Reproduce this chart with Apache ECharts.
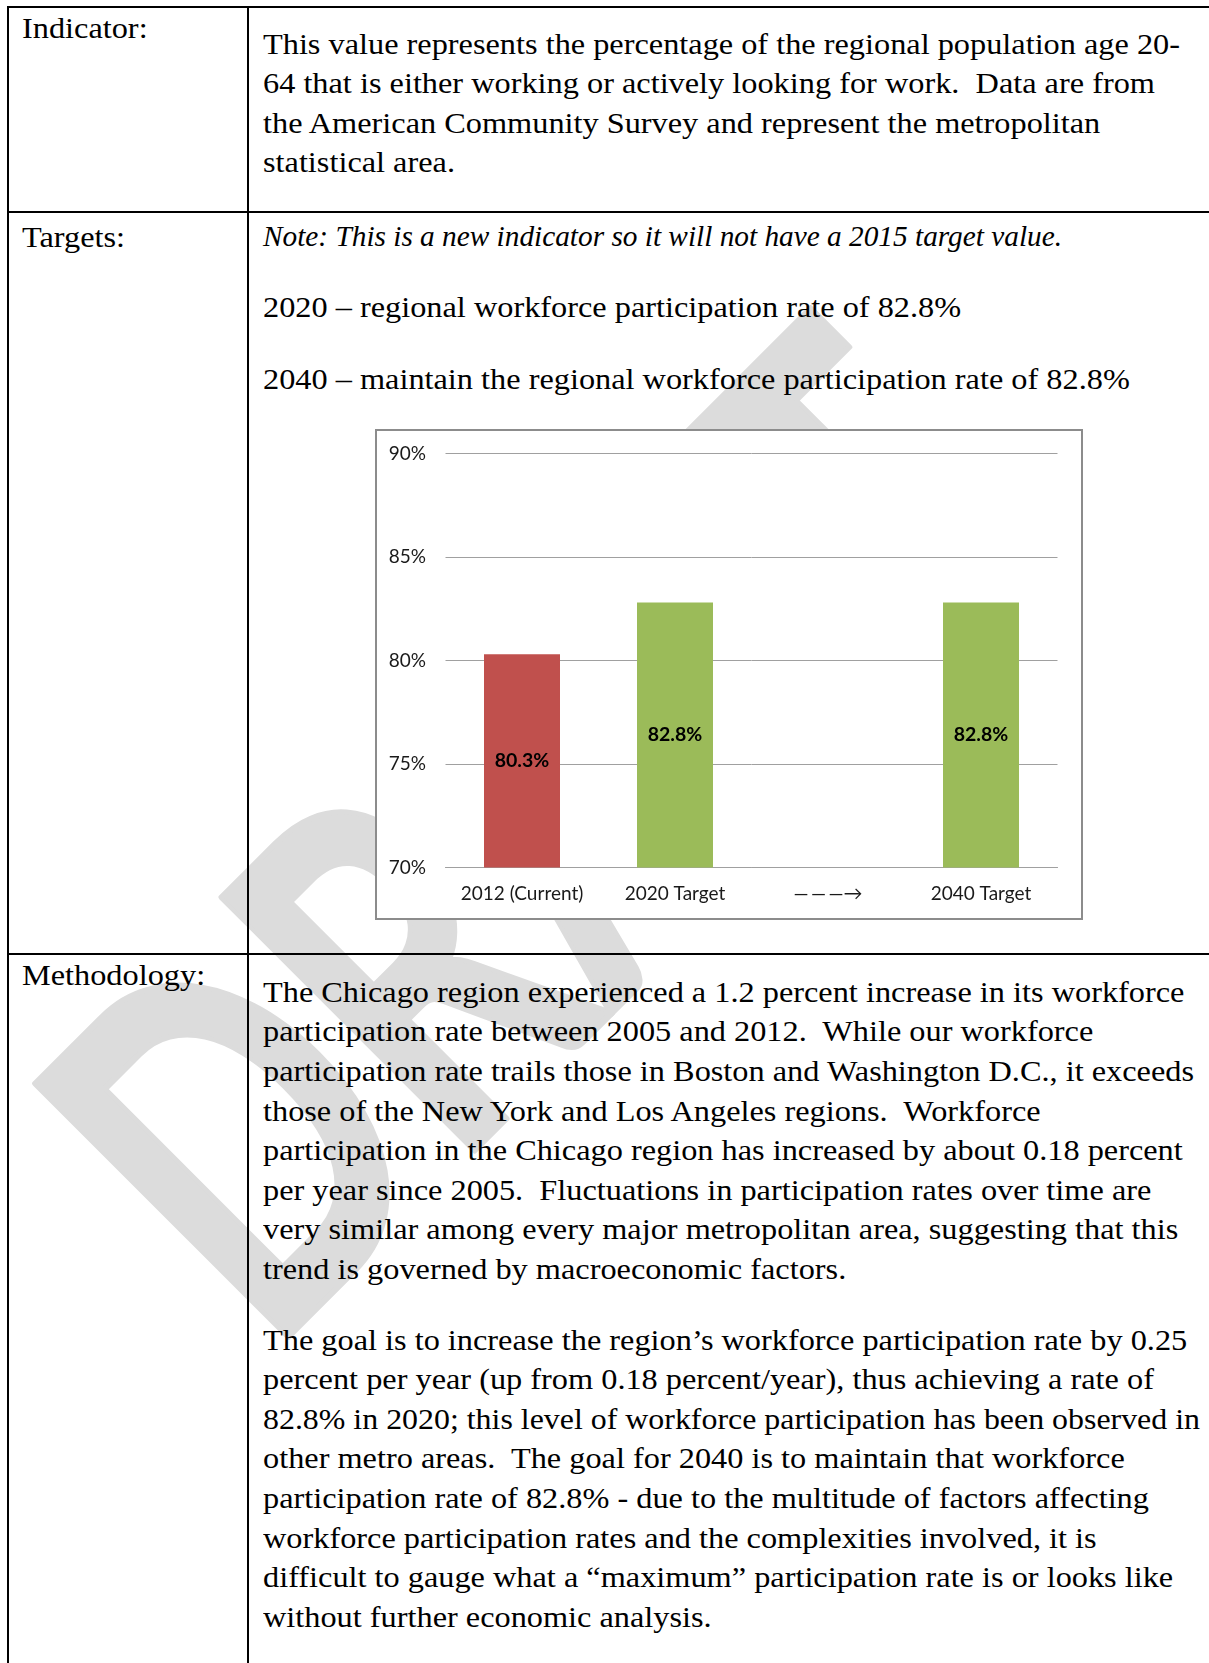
<!DOCTYPE html>
<html>
<head>
<meta charset="utf-8">
<script src="https://cdn.jsdelivr.net/npm/echarts@6/dist/echarts.min.js"></script>
<style>
  html, body { margin: 0; padding: 0; background: #fff; }
  #page { position: relative; width: 1209px; height: 1663px; overflow: hidden; background: #fff; }
  #wm { position: absolute; left: 0; top: 0; width: 1209px; height: 1663px; z-index: 0; }
  .rule { position: absolute; background: #000; z-index: 1; }
  .txt {
    position: absolute; z-index: 2; margin: 0;
    font-family: 'Liberation Serif', 'Times New Roman', serif; font-size: 29px; line-height: 39.6px;
    color: #000; white-space: pre;
  }
  .txt > div { width: max-content; transform-origin: 0 0; }
  .txt.it { font-style: italic; }
  #chartBox {
    position: absolute; left: 375px; top: 429px; width: 708px; height: 491px;
    box-sizing: border-box; border: 2px solid #8c8c8c; background: #fff; z-index: 3;
  }
  #chart { width: 704px; height: 487px; }
</style>
</head>
<body>
<div id="page">
  <svg id="wm" xmlns="http://www.w3.org/2000/svg">
    <text transform="translate(268 1357) rotate(-45) scale(0.7 1)" x="0" y="0"
          font-family="Lato" font-weight="bold" font-size="495" fill="#dcdcdc"
          stroke="#dcdcdc" stroke-width="6" stroke-linejoin="round">DRAFT</text>
  </svg>

  <!-- table rules -->
  <div class="rule" style="left:7px;top:6px;width:1202px;height:2px"></div>
  <div class="rule" style="left:7px;top:211px;width:1202px;height:2px"></div>
  <div class="rule" style="left:7px;top:953px;width:1202px;height:2px"></div>
  <div class="rule" style="left:7px;top:6px;width:2px;height:1657px"></div>
  <div class="rule" style="left:247px;top:6px;width:2px;height:1657px"></div>

  <div class="txt" id="lblIndicator" style="left:22px;top:9px"></div>
  <div class="txt" id="lblTargets" style="left:22px;top:218px"></div>
  <div class="txt" id="lblMethod" style="left:22px;top:956px"></div>

  <div class="txt" id="indicatorText" style="left:263px;top:24.7px"></div>
  <div class="txt it" id="noteText" style="left:263px;top:216.7px"></div>
  <div class="txt" id="target2020" style="left:263px;top:287.7px"></div>
  <div class="txt" id="target2040" style="left:263px;top:359.8px"></div>
  <div class="txt" id="methodA" style="left:263px;top:972.8px"></div>
  <div class="txt" id="methodB" style="left:263px;top:1320.7px"></div>

  <div id="chartBox"><div id="chart"></div></div>
</div>

<script>
// chart data
const categories = ['2012 (Current)', '2020 Target', '—\u2009—\u2009—→', '2040 Target']
const rateValues = [80.3, 82.8, null, 82.8]
const yMin = 70
const yMax = 90
const yStep = 5

const currentColor = '#C0504D'
const targetColor = '#9BBB59'

// document text, one string per printed line
const indicatorLines = [
  'This value represents the percentage of the regional population age 20-',
  '64 that is either working or actively looking for work.  Data are from',
  'the American Community Survey and represent the metropolitan',
  'statistical area.'
]
const noteLines = ['Note: This is a new indicator so it will not have a 2015 target value.']
const target2020Lines = ['2020 – regional workforce participation rate of 82.8%']
const target2040Lines = ['2040 – maintain the regional workforce participation rate of 82.8%']
const methodLinesA = [
  'The Chicago region experienced a 1.2 percent increase in its workforce',
  'participation rate between 2005 and 2012.  While our workforce',
  'participation rate trails those in Boston and Washington D.C., it exceeds',
  'those of the New York and Los Angeles regions.  Workforce',
  'participation in the Chicago region has increased by about 0.18 percent',
  'per year since 2005.  Fluctuations in participation rates over time are',
  'very similar among every major metropolitan area, suggesting that this',
  'trend is governed by macroeconomic factors.'
]
const methodLinesB = [
  'The goal is to increase the region’s workforce participation rate by 0.25',
  'percent per year (up from 0.18 percent/year), thus achieving a rate of',
  '82.8% in 2020; this level of workforce participation has been observed in',
  'other metro areas.  The goal for 2040 is to maintain that workforce',
  'participation rate of 82.8% - due to the multitude of factors affecting',
  'workforce participation rates and the complexities involved, it is',
  'difficult to gauge what a “maximum” participation rate is or looks like',
  'without further economic analysis.'
]

// the source font is wider than Liberation Serif, so lines get stretched
const ctx = document.createElement('canvas').getContext('2d')
const measure = (font, s) => { ctx.font = font; return ctx.measureText(s).width }
const regFont = '29px "Liberation Serif"'
const itFont = 'italic 29px "Liberation Serif"'
const kRegular = 917 / measure(regFont, indicatorLines[0])
const kItalic = 799 / measure(itFont, noteLines[0])
const maxLineWidth = 937 // keep inside the page

const fill = (id, lines, font, k) => {
  const box = document.getElementById(id)
  lines.forEach(line => {
    const el = document.createElement('div')
    el.textContent = line
    const s = Math.min(k, maxLineWidth / measure(font, line))
    el.style.transform = `scaleX(${s})`
    box.appendChild(el)
  })
}
fill('lblIndicator', ['Indicator:'], regFont, kRegular)
fill('lblTargets', ['Targets:'], regFont, kRegular)
fill('lblMethod', ['Methodology:'], regFont, kRegular)
fill('indicatorText', indicatorLines, regFont, kRegular)
fill('noteText', noteLines, itFont, kItalic)
fill('target2020', target2020Lines, regFont, kRegular)
fill('target2040', target2040Lines, regFont, kRegular)
fill('methodA', methodLinesA, regFont, kRegular)
fill('methodB', methodLinesB, regFont, kRegular)

// bar chart
const chart = echarts.init(document.getElementById('chart'))
const labelFont = { fontFamily: 'Lato', fontSize: 19, color: '#1a1a1a' }

chart.setOption({
  animation: false,
  grid: { left: 68.5, right: 23.5, top: 22.5, bottom: 50.4 },
  xAxis: {
    type: 'category',
    data: categories,
    axisLine: { lineStyle: { color: '#a0a0a0', width: 1 } },
    axisTick: { show: false },
    axisLabel: { ...labelFont, margin: 17, interval: 0 }
  },
  yAxis: {
    type: 'value',
    min: yMin,
    max: yMax,
    interval: yStep,
    axisLine: { show: false },
    axisTick: { show: false },
    axisLabel: { ...labelFont, margin: 19.5, formatter: v => v + '%' },
    splitLine: { lineStyle: { color: '#a0a0a0', width: 1 } }
  },
  series: [{
    type: 'bar',
    data: rateValues,
    barWidth: 76,
    itemStyle: { color: p => (p.dataIndex === 0 ? currentColor : targetColor) },
    label: {
      show: true,
      position: 'inside',
      fontFamily: 'Lato',
      fontSize: 19.5,
      fontWeight: 'bold',
      color: '#000',
      formatter: p => (p.value == null ? '' : p.value.toFixed(1) + '%')
    }
  }]
})
</script>
</body>
</html>
